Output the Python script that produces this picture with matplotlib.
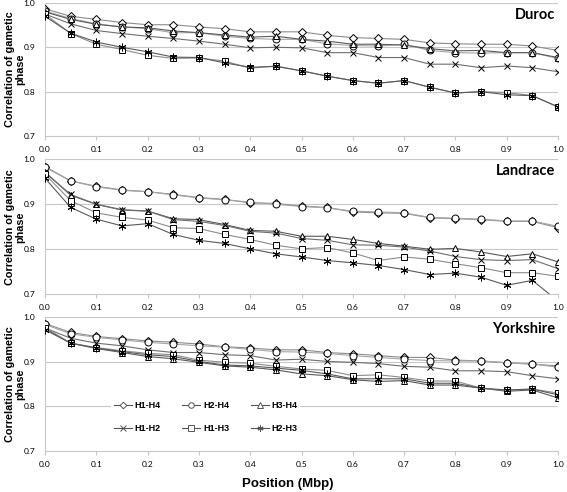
import matplotlib
matplotlib.use("Agg")
import matplotlib.pyplot as plt

positions = [0.0, 0.05, 0.1, 0.15, 0.2, 0.25, 0.3, 0.35, 0.4, 0.45, 0.5,
             0.55, 0.6, 0.65, 0.7, 0.75, 0.8, 0.85, 0.9, 0.95, 1.0]
series_names = ["H1-H4", "H2-H4", "H3-H4", "H1-H2", "H1-H3", "H2-H3"]
breeds = ["Duroc", "Landrace", "Yorkshire"]
x_ticks = [0.0, 0.1, 0.2, 0.3, 0.4, 0.5, 0.6, 0.7, 0.8, 0.9, 1.0]
y_ticks = [0.7, 0.8, 0.9, 1.0]

duroc_h1h4 = [0.987, 0.970, 0.963, 0.956, 0.951, 0.951, 0.946, 0.942, 0.935, 0.935, 0.935, 0.927, 0.922, 0.920, 0.918, 0.910, 0.908, 0.907, 0.907, 0.903, 0.893]
duroc_h2h4 = [0.982, 0.965, 0.953, 0.946, 0.942, 0.933, 0.933, 0.925, 0.920, 0.918, 0.918, 0.908, 0.904, 0.903, 0.907, 0.893, 0.888, 0.887, 0.888, 0.888, 0.875]
duroc_h3h4 = [0.980, 0.963, 0.952, 0.946, 0.944, 0.937, 0.933, 0.928, 0.923, 0.925, 0.918, 0.914, 0.907, 0.907, 0.905, 0.897, 0.892, 0.893, 0.888, 0.888, 0.877]
duroc_h1h2 = [0.975, 0.953, 0.938, 0.931, 0.925, 0.920, 0.914, 0.907, 0.899, 0.900, 0.899, 0.888, 0.888, 0.877, 0.877, 0.862, 0.862, 0.854, 0.858, 0.854, 0.845]
duroc_h1h3 = [0.975, 0.931, 0.907, 0.895, 0.882, 0.875, 0.876, 0.869, 0.853, 0.858, 0.847, 0.835, 0.825, 0.819, 0.825, 0.810, 0.797, 0.800, 0.798, 0.791, 0.765]
duroc_h2h3 = [0.970, 0.932, 0.912, 0.900, 0.890, 0.878, 0.877, 0.865, 0.855, 0.857, 0.847, 0.835, 0.825, 0.819, 0.825, 0.810, 0.797, 0.800, 0.793, 0.791, 0.766]

landrace_h1h4 = [0.984, 0.952, 0.940, 0.932, 0.928, 0.922, 0.915, 0.911, 0.903, 0.902, 0.896, 0.893, 0.883, 0.881, 0.880, 0.870, 0.868, 0.866, 0.862, 0.862, 0.848]
landrace_h2h4 = [0.982, 0.952, 0.939, 0.931, 0.928, 0.921, 0.914, 0.910, 0.905, 0.900, 0.895, 0.892, 0.885, 0.883, 0.881, 0.871, 0.869, 0.867, 0.863, 0.863, 0.851]
landrace_h3h4 = [0.972, 0.920, 0.900, 0.888, 0.885, 0.868, 0.866, 0.855, 0.842, 0.840, 0.829, 0.829, 0.822, 0.813, 0.807, 0.800, 0.802, 0.794, 0.784, 0.790, 0.772]
landrace_h1h2 = [0.970, 0.922, 0.900, 0.887, 0.885, 0.866, 0.862, 0.853, 0.840, 0.836, 0.824, 0.820, 0.810, 0.809, 0.805, 0.796, 0.784, 0.777, 0.775, 0.777, 0.757]
landrace_h1h3 = [0.967, 0.908, 0.881, 0.871, 0.865, 0.848, 0.846, 0.833, 0.822, 0.809, 0.801, 0.804, 0.792, 0.775, 0.783, 0.778, 0.768, 0.759, 0.748, 0.748, 0.740]
landrace_h2h3 = [0.958, 0.893, 0.867, 0.852, 0.857, 0.833, 0.820, 0.813, 0.801, 0.790, 0.783, 0.775, 0.770, 0.764, 0.755, 0.744, 0.747, 0.738, 0.720, 0.731, 0.685]

yorkshire_h1h4 = [0.986, 0.966, 0.957, 0.952, 0.947, 0.944, 0.940, 0.934, 0.931, 0.927, 0.927, 0.921, 0.918, 0.914, 0.910, 0.910, 0.904, 0.902, 0.898, 0.895, 0.891]
yorkshire_h2h4 = [0.984, 0.963, 0.955, 0.949, 0.944, 0.940, 0.936, 0.933, 0.928, 0.923, 0.922, 0.919, 0.914, 0.910, 0.906, 0.903, 0.902, 0.902, 0.898, 0.895, 0.888]
yorkshire_h3h4 = [0.975, 0.942, 0.930, 0.921, 0.912, 0.907, 0.899, 0.891, 0.888, 0.882, 0.873, 0.869, 0.860, 0.856, 0.858, 0.848, 0.848, 0.841, 0.834, 0.837, 0.819]
yorkshire_h1h2 = [0.976, 0.953, 0.942, 0.936, 0.927, 0.921, 0.921, 0.916, 0.914, 0.904, 0.906, 0.901, 0.899, 0.896, 0.890, 0.888, 0.880, 0.880, 0.878, 0.869, 0.862]
yorkshire_h1h3 = [0.977, 0.942, 0.932, 0.925, 0.919, 0.916, 0.904, 0.899, 0.897, 0.890, 0.884, 0.881, 0.869, 0.871, 0.865, 0.857, 0.857, 0.841, 0.836, 0.839, 0.830]
yorkshire_h2h3 = [0.972, 0.942, 0.931, 0.923, 0.916, 0.912, 0.901, 0.893, 0.891, 0.886, 0.881, 0.873, 0.862, 0.862, 0.862, 0.852, 0.852, 0.841, 0.837, 0.839, 0.826]

panel_data = {
    "Duroc": [duroc_h1h4, duroc_h2h4, duroc_h3h4, duroc_h1h2, duroc_h1h3, duroc_h2h3],
    "Landrace": [landrace_h1h4, landrace_h2h4, landrace_h3h4, landrace_h1h2, landrace_h1h3, landrace_h2h3],
    "Yorkshire": [yorkshire_h1h4, yorkshire_h2h4, yorkshire_h3h4, yorkshire_h1h2, yorkshire_h1h3, yorkshire_h2h3],
}

markers = ["D", "o", "^", "x", "s", (6, 2, 0)]
msizes = [4.2, 5.0, 5.0, 5.0, 4.6, 5.5]
line_colors = ["#8c8c8c", "#a6a6a6", "#595959", "#6e6e6e", "#8c8c8c", "#5a5a5a"]

W, H = 567, 492
fig = plt.figure(figsize=(W / 100, H / 100), dpi=100)

tick_font = "Lato"
bold_font = "Liberation Sans"

panels_px = [(3, 136), (159.3, 294.3), (317.3, 451)]
left_px, right_px = 45, 558

grid_color = "#c8c8c8"
for i, (breed, (top, bot)) in enumerate(zip(breeds, panels_px)):
    ax = fig.add_axes([left_px / W, (H - bot) / H, (right_px - left_px) / W, (bot - top) / H])
    vals = panel_data[breed]
    handles = []
    for name, v, m, ms, lc in zip(series_names, vals, markers, msizes, line_colors):
        h, = ax.plot(positions, v, color=lc, lw=0.8, marker=m, markersize=ms,
                     markerfacecolor="white", markeredgecolor="black",
                     markeredgewidth=0.7, label=name, zorder=3)
        handles.append(h)
    ax.set_xlim(0, 1.0)
    ax.set_ylim(0.7, 1.0)
    ax.set_xticks(x_ticks)
    ax.set_yticks(y_ticks)
    ax.set_xticklabels([f"{t:.1f}" for t in x_ticks], fontsize=6, family=tick_font)
    ax.set_yticklabels([f"{t:.1f}" for t in y_ticks], fontsize=6, family=tick_font)
    for yv in [0.8, 0.9, 1.0]:
        ax.axhline(yv, color=grid_color, lw=0.8, zorder=1)
    for s in ["top", "right"]:
        ax.spines[s].set_visible(False)
    ax.spines["left"].set_color(grid_color)
    ax.spines["bottom"].set_color(grid_color)
    ax.spines["left"].set_linewidth(0.8)
    ax.spines["bottom"].set_linewidth(0.8)
    ax.tick_params(axis="x", length=3, width=0.8, color=grid_color, pad=4, labelcolor="black")
    ax.tick_params(axis="y", length=0, pad=7, labelcolor="black")
    ax.text(0.995, 0.91, breed, transform=ax.transAxes, ha="right", va="center",
            fontsize=10.5, fontweight="bold", family=tick_font)
    ax.patch.set_alpha(0)
    fig.text(15 / W, (H - (top + bot) / 2) / H, "Correlation of gametic\nphase",
             rotation=90, ha="center", va="center", fontsize=7.8, fontweight="bold",
             family=bold_font, linespacing=1.0)
    if i == 2:
        order = [0, 3, 1, 4, 2, 5]
        leg = ax.legend([handles[k] for k in order], [series_names[k] for k in order],
                        ncol=3, loc="center left", bbox_to_anchor=(0.12, 0.255),
                        frameon=True, fancybox=False, framealpha=1.0,
                        prop={"family": bold_font, "weight": "bold", "size": 6.5},
                        handlelength=2.0, handletextpad=0.3, columnspacing=2.4,
                        labelspacing=1.6, borderpad=0.3, markerscale=0.8)
        leg.get_frame().set_edgecolor("none")
        leg.get_frame().set_facecolor("white")
        for lh in leg.legend_handles:
            lh.set_markeredgecolor("#555555")
            lh.set_color("#555555")

fig.text(288 / W, (H - 484) / H, "Position (Mbp)", ha="center", va="center",
         fontsize=9.5, fontweight="bold", family=bold_font)

fig.savefig("out.png", dpi=100)
